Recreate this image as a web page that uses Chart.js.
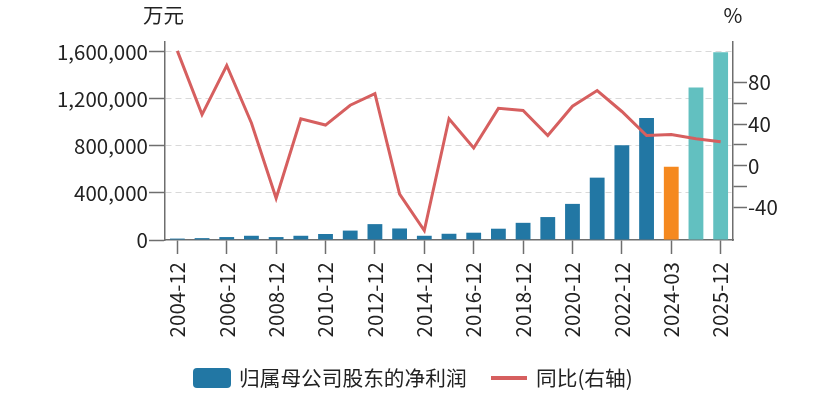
<!DOCTYPE html>
<html><head><meta charset="utf-8">
<script src="https://cdn.jsdelivr.net/npm/chart.js@4.4.1/dist/chart.umd.min.js"></script>
<style>
html,body{margin:0;padding:0;background:#fff;}
#wrap{position:relative;width:834px;height:399px;font-family:"Noto Sans CJK SC","Noto Sans",sans-serif;color:#222;}
canvas{position:absolute;left:0;top:0;}
.lg{position:absolute;font-size:20.7px;line-height:20px;white-space:nowrap;}
</style></head>
<body>
<div id="wrap">
<canvas id="c" width="834" height="399"></canvas>
<div class="lg" style="left:193px;top:368px;width:38px;height:20px;background:#2277a4;border-radius:4px;"></div>
<div class="lg" style="left:239px;top:367px;">归属母公司股东的净利润</div>
<div class="lg" style="left:491px;top:376px;width:36px;height:4px;background:#d65f5f;"></div>
<div class="lg" style="left:536px;top:367px;">同比(右轴)</div>
</div>
<script>
const categories = ['2004-12','2005-12','2006-12','2007-12','2008-12','2009-12','2010-12','2011-12','2012-12','2013-12','2014-12','2015-12','2016-12','2017-12','2018-12','2019-12','2020-12','2021-12','2022-12','2023-12','2024-03','2024-12','2025-12'];
const netProfit = [12000,16000,25000,36000,25000,36000,51000,80000,135000,98000,36000,53000,62000,96000,146000,195000,307000,530000,805000,1037000,623000,1297000,1595000];
const yoy = [110,49,96,41,-31,45,39,58,69,-27,-62,45,17,55,53,29,57,72,52,29,30,26,23];
const leftTicks = [0,200000,400000,600000,800000,1000000,1200000,1400000,1600000];
const leftLabelled = [0,400000,800000,1200000,1600000];
const rightTicks = [-40,-20,0,20,40,60,80];
const rightLabelled = [-40,0,40,80];

const BLUE='#2277a4', ORANGE='#f5891f', TEAL='#62c0c0', RED='#d65f5f', AX='#6e6e6e';
const barColors = categories.map(c => c === '2024-03' ? ORANGE : (c > '2024-03' ? TEAL : BLUE));
const FONT = {family:'"Noto Sans CJK SC","Noto Sans",sans-serif', size:20.5};

const titles = {
  id:'titles',
  afterDraw(chart){
    const ctx = chart.ctx;
    ctx.save();
    ctx.fillStyle = '#222';
    ctx.font = '20.5px "Noto Sans CJK SC","Noto Sans",sans-serif';
    ctx.textAlign = 'center';
    ctx.textBaseline = 'middle';
    ctx.fillText('万元', chart.scales.y.right - 1.5, 15);
    ctx.fillText('%', chart.scales.y1.left, 15);
    ctx.restore();
  }
};

new Chart(document.getElementById('c'), {
  data: {
    labels: categories,
    datasets: [
      {type:'line', label:'同比(右轴)', data: yoy, yAxisID:'y1', borderColor: RED, borderWidth:3, pointRadius:0, tension:0, order:0},
      {type:'bar', label:'归属母公司股东的净利润', data: netProfit, yAxisID:'y', backgroundColor: barColors, barPercentage:0.6, categoryPercentage:1, order:1}
    ]
  },
  options: {
    responsive:false, animation:false,
    layout:{padding:{top:42, left:0, right:0, bottom:0}},
    plugins:{legend:{display:false}, tooltip:{enabled:false}},
    scales:{
      x:{
        offset:true,
        grid:{drawOnChartArea:false, offset:false, tickLength:14, tickColor:AX, tickWidth:1.5},
        border:{color:AX, width:1.5},
        ticks:{font:FONT, color:'#222', minRotation:90, maxRotation:90, autoSkip:false, padding:8},
        afterBuildTicks: a => { a.ticks = a.ticks.filter((t,i)=> i%2===0); },
        afterFit: a => { a.height = 159; }
      },
      y:{
        position:'left', min:0, max:1683000,
        grid:{color: c => c.tick && c.tick.value===0 ? 'rgba(0,0,0,0)' : '#d9d9d9', lineWidth:1, tickLength:16, tickColor:AX, tickWidth:1.5},
        border:{color:AX, width:1.5, dash:[6,4]},
        ticks:{font:FONT, color:'#222', padding:1, callback: v => leftLabelled.includes(v) ? v.toLocaleString('en-US') : ''},
        afterBuildTicks: a => { a.ticks = leftTicks.map(v=>({value:v})); },
        afterFit: a => { a.width = 165; }
      },
      y1:{
        position:'right', min:-71, max:118.5,
        grid:{drawOnChartArea:false, tickLength:14, tickColor:AX, tickWidth:1.5},
        border:{color:AX, width:1.5},
        ticks:{font:FONT, color:'#222', padding:1, callback: v => rightLabelled.includes(v) ? String(v) : ''},
        afterBuildTicks: a => { a.ticks = rightTicks.map(v=>({value:v})); },
        afterFit: a => { a.width = 101; }
      }
    }
  },
  plugins:[titles]
});
</script>
</body></html>
